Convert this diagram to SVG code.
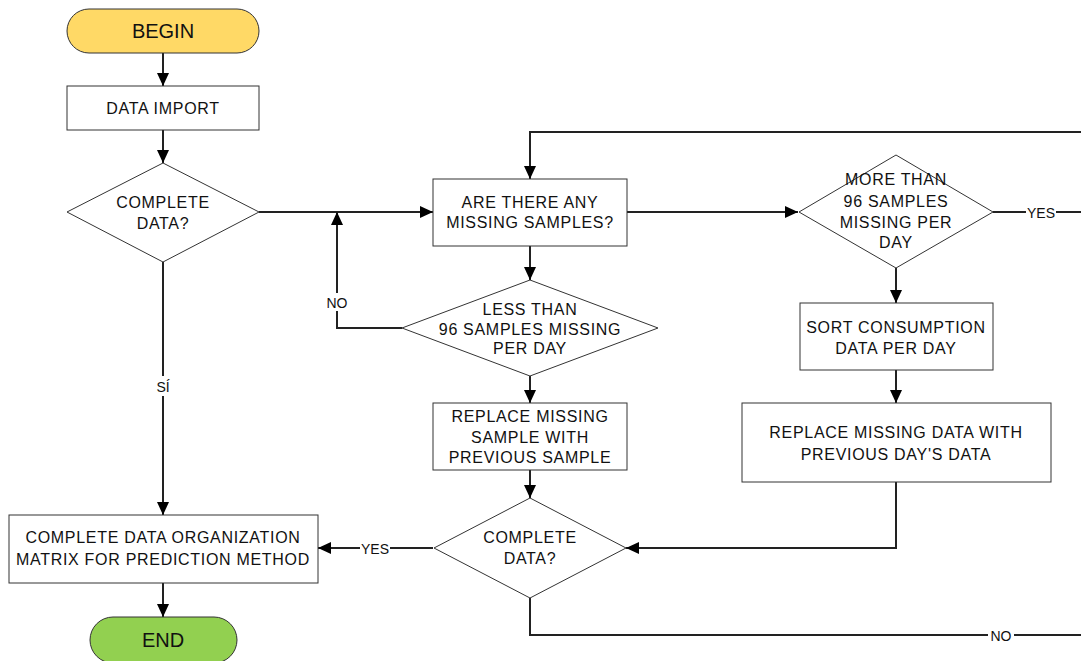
<svg xmlns="http://www.w3.org/2000/svg" width="1081" height="661" viewBox="0 0 1081 661">
<defs>
<marker id="ah" markerUnits="userSpaceOnUse" markerWidth="14" markerHeight="12" refX="13" refY="6" orient="auto">
<path d="M0,0 L13,6 L0,12 z" fill="#000"/>
</marker>
<style>
.sh{fill:#fff;stroke:#333;stroke-width:1}
.t{font-family:"Liberation Sans",Arial,sans-serif;font-size:16px;fill:#111;text-anchor:middle;letter-spacing:0.7px}
.tb{font-family:"Liberation Sans",Arial,sans-serif;font-size:20px;fill:#111;text-anchor:middle}
.c{fill:none;stroke:#222;stroke-width:2}
.ca{fill:none;stroke:#222;stroke-width:2;marker-end:url(#ah)}
.lbl{font-family:"Liberation Sans",Arial,sans-serif;font-size:14px;fill:#111;text-anchor:middle}
.bg{fill:#fff}
</style>
</defs>
<rect width="1081" height="661" fill="#fff"/>

<g id="connectors">
<path class="ca" d="M163,53 V86"/>
<path class="ca" d="M163,130 V163"/>
<path class="ca" d="M259,212 H433"/>
<path class="ca" d="M163,262 V515"/>
<path class="ca" d="M163,583 V617"/>
<path class="ca" d="M530,246 V280"/>
<path class="ca" d="M402,328 H337 V212"/>
<path class="ca" d="M530,376 V403"/>
<path class="ca" d="M530,470 V498"/>
<path class="ca" d="M433,548 H318"/>
<path class="c" d="M530,598 V635 H1081"/>
<path class="ca" d="M1081,132 H530 V179"/>
<path class="ca" d="M627,212 H798"/>
<path class="c" d="M993,212 H1081"/>
<path class="ca" d="M896,268 V303"/>
<path class="ca" d="M896,370 V403"/>
<path class="ca" d="M896,482 V548 H626"/>
<rect class="bg" x="154" y="376" width="18" height="20"/>
<text class="lbl" x="163" y="392">SÍ</text>
<rect class="bg" x="324" y="293" width="26" height="18"/>
<text class="lbl" x="337" y="308">NO</text>
<rect class="bg" x="360" y="541" width="30" height="16"/>
<text class="lbl" x="375" y="554">YES</text>
<rect class="bg" x="988" y="628" width="26" height="16"/>
<text class="lbl" x="1001" y="641">NO</text>
<rect class="bg" x="1026" y="205" width="30" height="16"/>
<text class="lbl" x="1041" y="218">YES</text>
</g>

<g id="begin">
<rect x="67" y="9" width="192" height="44" rx="22" ry="22" fill="#FFD966" stroke="#333" stroke-width="1"/>
<text class="tb" x="163" y="38">BEGIN</text>
</g>

<g id="data-import">
<rect class="sh" x="67" y="86" width="192" height="44"/>
<text class="t" x="163" y="113.5">DATA IMPORT</text>
</g>

<g id="complete-data-1">
<polygon class="sh" points="163,163 259,212 163,262 67,212"/>
<text class="t" x="163" y="208">COMPLETE</text>
<text class="t" x="163" y="229">DATA?</text>
</g>

<g id="missing-samples">
<rect class="sh" x="433" y="179" width="194" height="67"/>
<text class="t" x="530" y="207.5">ARE THERE ANY</text>
<text class="t" x="530" y="228">MISSING SAMPLES?</text>
</g>

<g id="less-than">
<polygon class="sh" points="530,280 658,328 530,376 402,328"/>
<text class="t" x="530" y="315">LESS THAN</text>
<text class="t" x="530" y="335">96 SAMPLES MISSING</text>
<text class="t" x="530" y="354">PER DAY</text>
</g>

<g id="replace-sample">
<rect class="sh" x="433" y="403" width="194" height="67"/>
<text class="t" x="530" y="421.5">REPLACE MISSING</text>
<text class="t" x="530" y="443">SAMPLE WITH</text>
<text class="t" x="530" y="463">PREVIOUS SAMPLE</text>
</g>

<g id="complete-data-2">
<polygon class="sh" points="530,498 626,548 530,598 434,548"/>
<text class="t" x="530" y="543">COMPLETE</text>
<text class="t" x="530" y="564">DATA?</text>
</g>

<g id="more-than">
<polygon class="sh" points="896,155 993,212 896,268 799,212"/>
<text class="t" x="896" y="185">MORE THAN</text>
<text class="t" x="896" y="207">96 SAMPLES</text>
<text class="t" x="896" y="228">MISSING PER</text>
<text class="t" x="896" y="248">DAY</text>
</g>

<g id="sort-consumption">
<rect class="sh" x="800" y="303" width="193" height="67"/>
<text class="t" x="896" y="332.5">SORT CONSUMPTION</text>
<text class="t" x="896" y="353.5">DATA PER DAY</text>
</g>

<g id="replace-day">
<rect class="sh" x="742" y="403" width="309" height="79"/>
<text class="t" x="896" y="438">REPLACE MISSING DATA WITH</text>
<text class="t" x="896" y="459.5">PREVIOUS DAY'S DATA</text>
</g>

<g id="matrix">
<rect class="sh" x="9" y="515" width="309" height="68"/>
<text class="t" x="163" y="543">COMPLETE DATA ORGANIZATION</text>
<text class="t" x="163" y="565">MATRIX FOR PREDICTION METHOD</text>
</g>

<g id="end">
<rect x="90" y="617" width="147" height="46" rx="23" ry="23" fill="#92D050" stroke="#333" stroke-width="1"/>
<text class="tb" x="163" y="647">END</text>
</g>
</svg>
